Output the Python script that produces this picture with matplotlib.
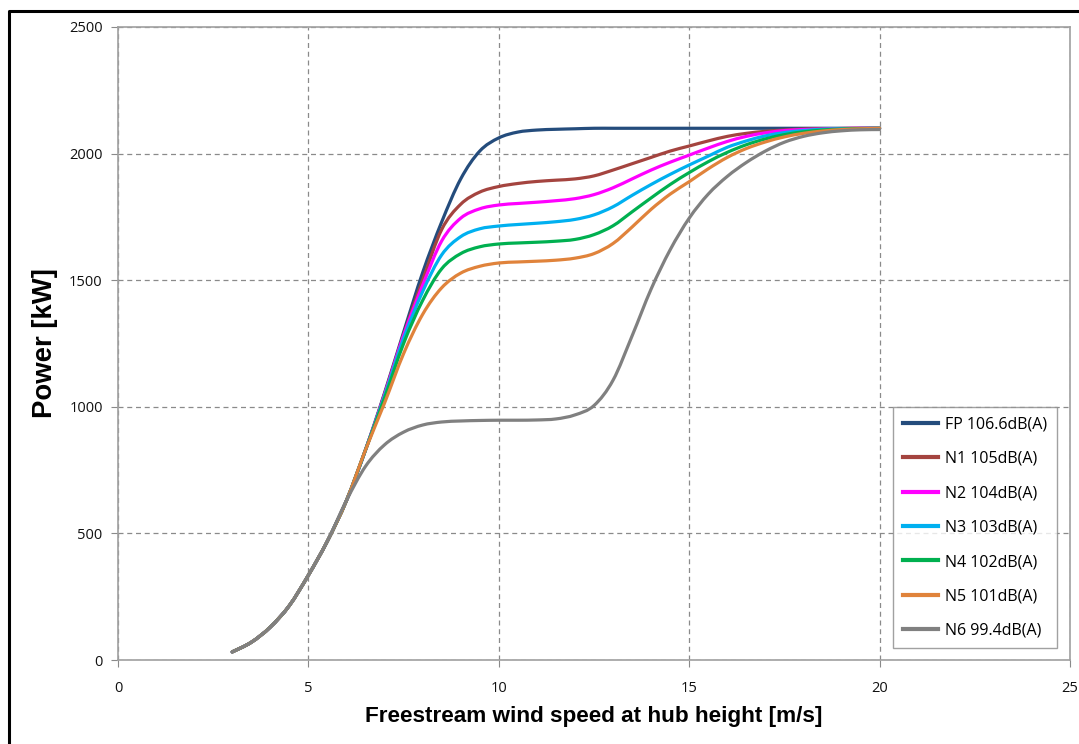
import numpy as np
import matplotlib.pyplot as plt
from matplotlib.path import Path
from matplotlib.patches import PathPatch
from matplotlib.lines import Line2D

# wind speed [m/s]
wind = np.arange(3, 20.01, 0.5)

# common part of the curve below 7 m/s
base = [32, 70, 130, 215, 335, 470, 630, 830]

fp = base + [1055, 1295, 1530, 1730, 1900, 2010, 2062, 2085, 2093, 2096, 2098,
             2100, 2100, 2100, 2100, 2100, 2100, 2100, 2100, 2100, 2100, 2100,
             2100, 2100, 2100, 2100, 2100]
n1 = base + [1050, 1285, 1500, 1700, 1800, 1848, 1870, 1882, 1890, 1895, 1900,
             1912, 1935, 1960, 1985, 2010, 2030, 2050, 2068, 2080, 2088, 2093,
             2097, 2098, 2099, 2100, 2100]
n2 = base + [1048, 1282, 1480, 1655, 1745, 1782, 1797, 1803, 1808, 1814, 1822,
             1838, 1865, 1900, 1935, 1966, 1994, 2022, 2048, 2068, 2082, 2091,
             2095, 2097, 2099, 2100, 2100]
n3 = base + [1043, 1270, 1455, 1600, 1672, 1703, 1714, 1720, 1725, 1731, 1740,
             1758, 1790, 1835, 1878, 1918, 1955, 1990, 2025, 2050, 2070, 2083,
             2091, 2096, 2098, 2099, 2100]
n4 = base + [1035, 1250, 1420, 1545, 1605, 1632, 1643, 1647, 1650, 1654, 1661,
             1680, 1715, 1770, 1825, 1878, 1925, 1968, 2005, 2035, 2058, 2075,
             2086, 2093, 2097, 2099, 2100]
n5 = base + [1015, 1210, 1365, 1470, 1528, 1555, 1568, 1572, 1575, 1579, 1587,
             1605, 1645, 1710, 1780, 1840, 1889, 1940, 1985, 2020, 2046, 2066,
             2080, 2089, 2095, 2098, 2100]
n6 = base[:7] + [765, 850, 900, 928, 940, 944, 946, 947, 947, 948, 952, 968,
                 1005, 1105, 1280, 1465, 1620, 1745, 1840, 1910, 1965, 2010,
                 2045, 2068, 2082, 2090, 2094, 2095]

series = [fp, n1, n2, n3, n4, n5, n6]
names = ["FP 106.6dB(A)", "N1 105dB(A)", "N2 104dB(A)", "N3 103dB(A)",
         "N4 102dB(A)", "N5 101dB(A)", "N6 99.4dB(A)"]
colors = ["#244C7C", "#A4443F", "#FF00FF", "#00B0F0", "#00B050", "#E0833B", "#808080"]


def smooth_path(x, y):
    # Excel-style smoothed line: cubic Bezier through every point
    p = np.column_stack([x, y]).astype(float)
    ext = np.vstack([p[0], p, p[-1]])
    verts = [p[0]]
    codes = [Path.MOVETO]
    for i in range(len(p) - 1):
        c1 = ext[i + 1] + (ext[i + 2] - ext[i]) / 6
        c2 = ext[i + 2] - (ext[i + 3] - ext[i + 1]) / 6
        verts += [c1, c2, p[i + 1]]
        codes += [Path.CURVE4] * 3
    return Path(verts, codes)


W, H = 1079, 744
fig = plt.figure(figsize=(W / 100, H / 100), dpi=100)
ax = fig.add_axes([118 / W, 1 - 660 / H, (1070 - 118) / W, (660 - 27) / H])

# black frame (left and top visible in the picture)
fig.add_artist(Line2D([8.5 / W, 8.5 / W, 1.01], [-0.01, 1 - 11 / H, 1 - 11 / H],
                      transform=fig.transFigure, color="black", lw=2.2))

handles = []
for y, name, c in zip(series, names, colors):
    ax.add_patch(PathPatch(smooth_path(wind, y), fill=False, edgecolor=c, lw=2.3,
                           capstyle="round", joinstyle="round"))
    handles.append(Line2D([], [], color=c, lw=3, label=name))

ax.set_xlim(0, 25)
ax.set_ylim(0, 2500)
ax.set_xticks([0, 5, 10, 15, 20, 25])
ax.set_yticks([0, 500, 1000, 1500, 2000, 2500])
ax.set_axisbelow(True)
ax.grid(True, color="#8a8a8a", linestyle=(0, (4, 3)), linewidth=0.9)
for s in ax.spines.values():
    s.set_color("#a0a0a0")
    s.set_linewidth(1.2)
ax.tick_params(direction="out", length=5, color="#8a8a8a", labelsize=10.5,
               labelcolor="#111111")
ax.tick_params(axis="x", pad=10)
ax.tick_params(axis="y", pad=6)
for lab in ax.get_xticklabels() + ax.get_yticklabels():
    lab.set_fontfamily("Open Sans")

ax.set_xlabel("Freestream wind speed at hub height [m/s]", fontfamily="Liberation Sans",
              fontweight="bold", fontsize=16.2, labelpad=7)
ax.set_ylabel("Power [kW]", fontfamily="Liberation Sans", fontweight="bold",
              fontsize=19.8, labelpad=8)

leg = ax.legend(handles=handles, loc="upper left",
                bbox_to_anchor=((893 - 118) / 952, (660 - 407) / 633),
                prop={"family": "Open Sans", "size": 11.5}, frameon=True, fancybox=False,
                edgecolor="#8a8a8a", handlelength=2.2, handletextpad=0.45,
                labelspacing=1.15, borderpad=0.6, borderaxespad=0)
leg.get_frame().set_linewidth(1.0)

fig.savefig("out.png", dpi=100)
